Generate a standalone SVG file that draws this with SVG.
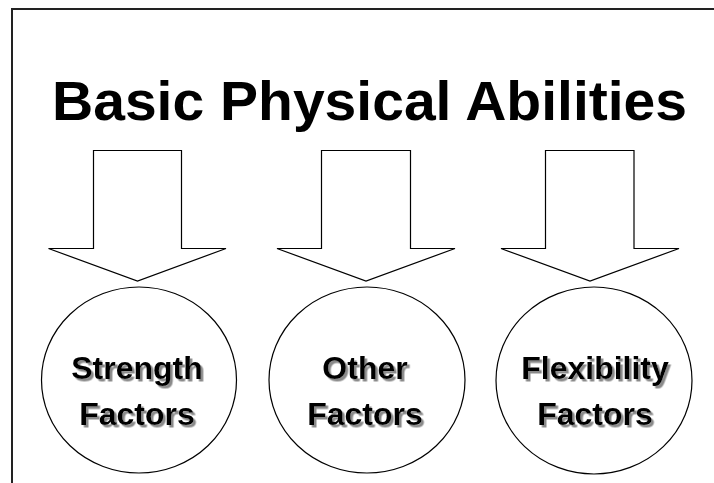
<svg xmlns="http://www.w3.org/2000/svg" width="714" height="483" viewBox="0 0 714 483">
<defs>
<filter id="shadow" x="-10%" y="-20%" width="130%" height="150%">
<feDropShadow dx="2.5" dy="2.5" stdDeviation="0" flood-color="#8a8a8a" flood-opacity="1"/>
</filter>
</defs>
<style>
.frame{fill:none;stroke:#222;stroke-width:2}
.arrow{fill:#fff;stroke:#000;stroke-width:1.2;stroke-linejoin:miter}
.circ{fill:#fff;stroke:#000;stroke-width:1.2}
.title{font-family:"Liberation Sans",Arial,sans-serif;font-weight:bold;font-size:56px;fill:#000}
.lbl{font-family:"Liberation Sans",Arial,sans-serif;font-weight:bold;font-size:32px;text-anchor:middle;fill:#000;filter:url(#shadow)}
</style>
<rect width="714" height="483" fill="#fff"/>
<rect class="frame" x="12" y="9" width="730" height="500"/>
<g id="title"><text class="title" x="52" y="120" textLength="635" lengthAdjust="spacingAndGlyphs">Basic Physical Abilities</text></g>
<g id="connectors">
<polygon class="arrow" points="93.5,150.5 181.5,150.5 181.5,248.5 226,248.5 137.5,281 48.5,248.5 93.5,248.5"/>
<polygon class="arrow" points="321.5,150.5 410.5,150.5 410.5,248.5 455,248.5 366,281 277,248.5 321.5,248.5"/>
<polygon class="arrow" points="545.5,150.5 634,150.5 634,248.5 679,248.5 590,281 501,248.5 545.5,248.5"/>
</g>
<g id="strength">
<ellipse class="circ" cx="139" cy="380" rx="97.5" ry="93"/>
<text class="lbl" x="137" y="378.5">Strength</text>
<text class="lbl" x="137" y="424.5">Factors</text>
</g>
<g id="other">
<ellipse class="circ" cx="367" cy="380" rx="98" ry="93"/>
<text class="lbl" x="365" y="378.5">Other</text>
<text class="lbl" x="365" y="424.5">Factors</text>
</g>
<g id="flexibility">
<ellipse class="circ" cx="594" cy="380.5" rx="98" ry="93.5"/>
<text class="lbl" x="595" y="378.5">Flexibility</text>
<text class="lbl" x="595" y="424.5">Factors</text>
</g>
</svg>
